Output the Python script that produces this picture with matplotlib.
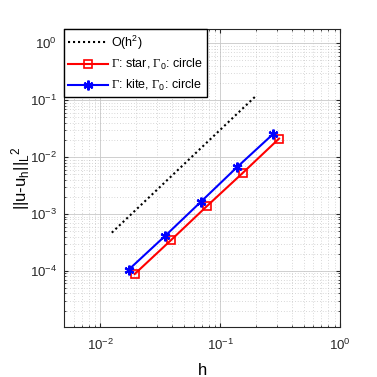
import matplotlib.pyplot as plt
import numpy as np

plt.rcParams['font.family'] = ['Liberation Sans', 'DejaVu Sans']
plt.rcParams['mathtext.fontset'] = 'custom'
plt.rcParams['mathtext.rm'] = 'Liberation Serif'
plt.rcParams['mathtext.sf'] = 'Liberation Sans'
plt.rcParams['mathtext.it'] = 'Liberation Sans:italic'
plt.rcParams['mathtext.bf'] = 'Liberation Sans:bold'

# reference slope O(h^2)
h_ref = [0.0125, 0.2]
c_ref = 3.0

# star boundary
h_star = [0.31, 0.155, 0.0775, 0.0388, 0.0194]
err_star = [0.0211, 0.0053, 0.00137, 3.44e-4, 8.8e-5]

# kite boundary
h_kite = [0.275, 0.1377, 0.069, 0.035, 0.0173]
err_kite = [0.0251, 0.00658, 0.00163, 4.16e-4, 1.05e-4]

fig = plt.figure(figsize=(3.77, 3.77), dpi=100)
ax = fig.add_axes([0.170, 0.1326, 0.732, 0.7904])

ax.loglog(h_ref, c_ref * np.array(h_ref) ** 2, color='k', linestyle=(0, (1, 1.4)),
          lw=1.5, label=r'O(h$^{\mathsf{2}}$)')
ax.loglog(h_star, err_star, color='#ff0000', lw=1.5, marker='s', ms=6,
          mfc='none', mew=1.2, label=r'$\Gamma$: star, $\Gamma_{\mathsf{0}}$: circle')
ax.loglog(h_kite, err_kite, color='#0000ff', lw=1.5, marker=(6, 2, 0), ms=7,
          mew=1.6, label=r'$\Gamma$: kite, $\Gamma_{\mathsf{0}}$: circle')

ax.set_xlim(5e-3, 1)
ax.set_ylim(1.03e-5, 10 ** 0.25)
ax.set_xlabel('h', fontsize=12)
ax.set_ylabel(r'||u-u$_{\mathsf{h}}$||$_{\mathsf{L}}$$^{\mathsf{2}}$', fontsize=12)
ax.yaxis.set_label_coords(-0.118, 0.5)
ax.xaxis.set_label_coords(0.5, -0.12)

ax.grid(True, which='major', color='#c8c8c8', lw=0.6, linestyle='-')
ax.grid(True, which='minor', color='#b4b4b4', lw=0.5, linestyle=(0, (1, 3)))
ax.tick_params(which='both', direction='in', top=True, right=True, labelsize=9.5, colors='#262626')
ax.tick_params(which='major', length=3, pad=5)
ax.tick_params(axis='x', which='major', pad=8)
ax.tick_params(which='minor', length=1.5)
for s in ax.spines.values():
    s.set_color('#262626')
    s.set_linewidth(0.8)

leg = ax.legend(loc='upper left', bbox_to_anchor=(0, 1), borderaxespad=0,
                fontsize=9, fancybox=False, edgecolor='k', framealpha=1,
                handlelength=3.2, handletextpad=0.2, labelspacing=0.45, borderpad=0.35)
leg.get_frame().set_linewidth(1.0)

fig.savefig('out.png', dpi=100)
